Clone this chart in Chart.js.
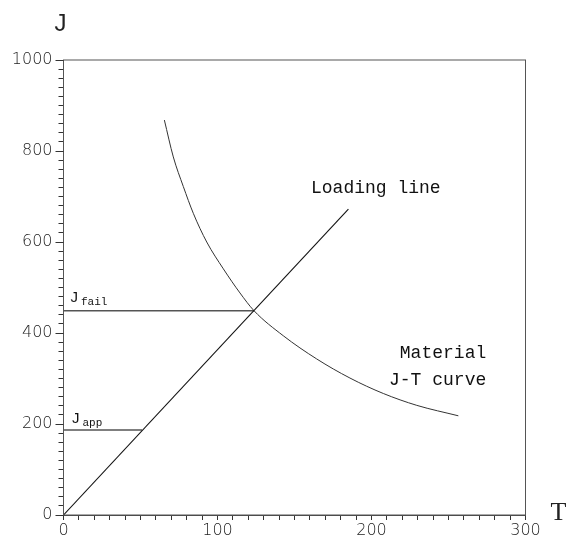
<!DOCTYPE html>
<html>
<head>
<meta charset="utf-8">
<script src="https://cdn.jsdelivr.net/npm/chart.js@4.4.1/dist/chart.umd.min.js"></script>
<style>
  html, body { margin: 0; padding: 0; background: #fff; }
  #wrap { width: 570px; height: 538px; position: relative; }
</style>
</head>
<body>
<div id="wrap"><canvas id="jtChart"></canvas></div>
<script>
// loading line J = k*T
const loadT = [0, 185];
const loadJ = [0, 672];

// material J-T curve
const curveT = [65.5, 71.3, 77.8, 84.3, 93, 103.8, 114.6, 123.7, 142.7, 164.4, 186, 207.7, 229.4, 256.4];
const curveJ = [868, 787, 722, 663, 600, 541, 488, 449, 394, 343, 301, 267, 241, 218];

// horizontal markers
const failT = [0, 123.7];
const failJ = [449, 449];
const appT = [0, 51];
const appJ = [187, 187];

const xTicks = [0, 100, 200, 300];
const yTicks = [0, 200, 400, 600, 800, 1000];

const toPoints = (xs, ys) => xs.map((x, i) => ({ x, y: ys[i] }));

const tickFont = { family: "DejaVu Sans", size: 16, weight: "200" };
const monoFont = "18px 'Liberation Mono'";

// text labels placed in data units
const labels = [
  { text: "Loading line", t: 160.7, j: 719, align: "left" },
  { text: "Material", t: 274.5, j: 356, align: "right" },
  { text: "J-T curve", t: 274.5, j: 297, align: "right" },
];
const subLabels = [
  { main: "J", sub: "fail", t: 4.5, j: 477 },
  { main: "J", sub: "app", t: 5.5, j: 211 },
];

const decorPlugin = {
  id: "decor",
  afterDraw(chart) {
    const { ctx, chartArea: a, scales } = chart;
    const x = scales.x, y = scales.y;
    ctx.save();
    // frame
    ctx.strokeStyle = "#555";
    ctx.lineWidth = 1;
    ctx.strokeRect(a.left, a.top, a.right - a.left, a.bottom - a.top);

    // longer major ticks on y
    ctx.strokeStyle = "#333";
    yTicks.forEach((v) => {
      const py = Math.round(y.getPixelForValue(v)) + 0.5;
      ctx.beginPath();
      ctx.moveTo(a.left - 8, py);
      ctx.lineTo(a.left, py);
      ctx.stroke();
    });

    ctx.fillStyle = "#111";
    ctx.textBaseline = "middle";
    ctx.font = monoFont;
    labels.forEach((l) => {
      ctx.textAlign = l.align;
      ctx.fillText(l.text, x.getPixelForValue(l.t), y.getPixelForValue(l.j));
    });

    ctx.textAlign = "left";
    subLabels.forEach((l) => {
      const px = x.getPixelForValue(l.t);
      const py = y.getPixelForValue(l.j);
      ctx.font = "15px 'Liberation Sans'";
      ctx.fillText(l.main, px, py);
      const w = ctx.measureText(l.main).width;
      ctx.font = "11px 'Liberation Mono'";
      ctx.fillText(l.sub, px + w + 3, py + 4);
    });

    // axis titles
    ctx.font = "24px 'Liberation Sans'";
    ctx.fillStyle = "#222";
    ctx.textAlign = "center";
    ctx.fillText("J", a.left - 3, a.top - 36);
    ctx.font = "26px 'Liberation Serif'";
    ctx.fillText("T", a.right + 33, a.bottom - 2);
    ctx.restore();
  },
};

new Chart(document.getElementById("jtChart"), {
  type: "scatter",
  data: {
    datasets: [
      { data: toPoints(loadT, loadJ), borderColor: "#111", borderWidth: 1.1 },
      { data: toPoints(curveT, curveJ), borderColor: "#333", borderWidth: 1, cubicInterpolationMode: "monotone" },
      { data: toPoints(failT, failJ), borderColor: "#555", borderWidth: 1.5 },
      { data: toPoints(appT, appJ), borderColor: "#555", borderWidth: 1.5 },
    ].map((d) => ({ ...d, showLine: true, pointRadius: 0, fill: false })),
  },
  options: {
    responsive: true,
    maintainAspectRatio: false,
    animation: false,
    events: [],
    layout: { padding: { left: 0, top: 60, right: 44.5, bottom: 0 } },
    plugins: { legend: { display: false }, tooltip: { enabled: false } },
    scales: {
      x: {
        type: "linear",
        min: 0,
        max: 300,
        afterFit: (s) => { s.height = 23; },
        border: { color: "#444", width: 1 },
        grid: { drawOnChartArea: false, drawTicks: true, tickLength: 5, tickColor: "#333" },
        ticks: {
          stepSize: 10,
          autoSkip: false,
          maxRotation: 0,
          padding: 1,
          color: "#222",
          font: tickFont,
          callback: (v) => (xTicks.includes(v) ? String(v) : ""),
        },
      },
      y: {
        type: "linear",
        min: 0,
        max: 1000,
        afterFit: (s) => { s.width = 63.5; },
        border: { color: "#444", width: 1 },
        grid: { drawOnChartArea: false, drawTicks: true, tickLength: 5, tickColor: "#333" },
        ticks: {
          stepSize: 20,
          autoSkip: false,
          padding: 6,
          color: "#222",
          font: tickFont,
          callback: (v) => (yTicks.includes(v) ? String(v) : ""),
        },
      },
    },
  },
  plugins: [decorPlugin],
});
</script>
</body>
</html>
